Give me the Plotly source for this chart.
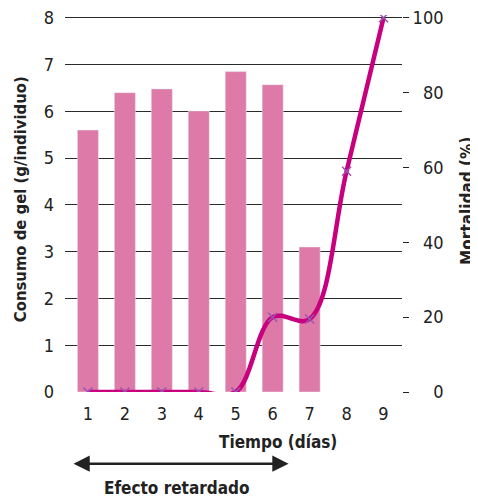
import plotly.graph_objects as go

days = [1, 2, 3, 4, 5, 6, 7, 8, 9]
bar_days = [1, 2, 3, 4, 5, 6, 7]
consumo = [5.6, 6.4, 6.48, 6.01, 6.85, 6.57, 3.1]
mortalidad = [0, 0, 0, 0, 0, 20, 19.5, 59, 100]

FONT = "DejaVu Sans Condensed, Roboto, Arial"
BAR = "#de7aa8"
LINE = "#c8007d"

fig = go.Figure()
fig.add_trace(go.Bar(x=bar_days, y=consumo, marker_color=BAR, width=0.57,
                     showlegend=False, hoverinfo="skip"))
fig.add_trace(go.Scatter(x=days, y=mortalidad, yaxis="y2", mode="lines",
                         line=dict(color=LINE, width=4.5, shape="spline", smoothing=1.0),
                         showlegend=False))
fig.add_trace(go.Scatter(x=days, y=mortalidad, yaxis="y2", mode="markers",
                         marker=dict(symbol="x-thin", size=9, line=dict(color="#9a55b5", width=1.5)),
                         showlegend=False))

# page body has an 8px margin, so the figure is shrunk and shifted accordingly;
# y range runs a bit past 8 so the top gridline is drawn
fig.update_layout(
    width=470, height=490,
    margin=dict(l=57, r=76, t=7, b=106),
    plot_bgcolor="white", paper_bgcolor="white",
    font=dict(family=FONT, size=18, color="#222"),
    xaxis=dict(range=[0.38, 9.5], tickvals=days, showgrid=False, zeroline=False,
               showline=False, ticks="", ticklabelstandoff=9, automargin=False),
    yaxis=dict(range=[0, 8.06], dtick=1, showgrid=True, gridcolor="#2a2a2a", gridwidth=1.2,
               zeroline=False, showline=False, ticks="", ticklabelstandoff=10,
               ticklabeloverflow="allow", automargin=False),
    yaxis2=dict(range=[0, 100.75], overlaying="y", side="right",
                tickvals=[0, 20, 40, 60, 80, 100],
                ticktext=["\u2007\u20070", "\u200720", "\u200740", "\u200760", "\u200780", "100"],
                showgrid=False, zeroline=False, showline=False, ticklabeloverflow="allow",
                ticks="outside", ticklen=6, tickcolor="#222", tickwidth=1.2, automargin=False),
)

# annotation positions in paper units of the 337x377 plot area
bold = dict(family=FONT, size=17, color="#222")
common = dict(xref="paper", yref="paper", showarrow=False, xanchor="center", yanchor="middle")
fig.add_annotation(text="<b>Consumo de gel (g/individuo)</b>", x=-0.13, y=0.512,
                   textangle=-90, font=dict(family=FONT, size=16.5, color="#222"), **common)
fig.add_annotation(text="<b>Mortalidad (%)</b>", x=1.193, y=0.507, textangle=-90,
                   font=bold, **common)
fig.add_annotation(text="<b>Tiempo (días)</b>", x=0.632, y=-0.133, font=bold, **common)
fig.add_annotation(text="<b>Efecto retardado</b>", x=0.333, y=-0.255, font=bold, **common)
fig.add_annotation(text="", x=6.43, y=-0.19, xref="x", yref="paper",
                   ax=0.57, ay=0, axref="x", ayref="pixel",
                   showarrow=True, arrowside="end+start", arrowhead=2,
                   arrowsize=1.3, arrowwidth=2.5, arrowcolor="#222")

fig.write_html("out.html")
